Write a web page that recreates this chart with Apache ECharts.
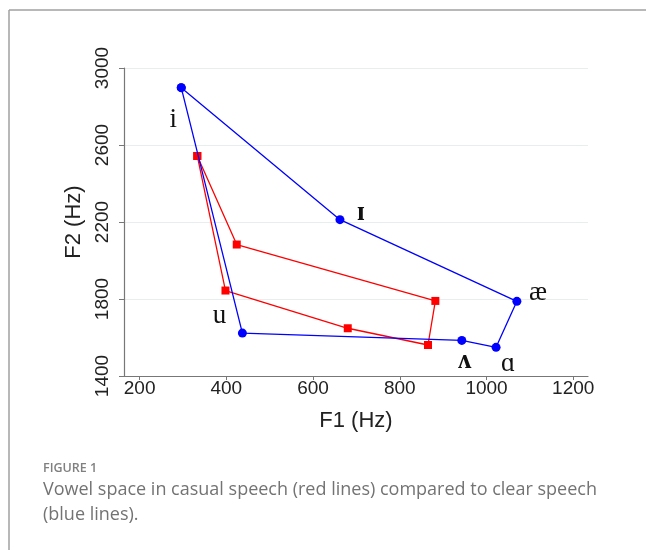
<!DOCTYPE html>
<html><head><meta charset="utf-8">
<script src="https://cdn.jsdelivr.net/npm/echarts@6/dist/echarts.min.js"></script>
<style>html,body{margin:0;padding:0;background:#fff}#c{width:646px;height:550px}</style>
</head><body><div id="c"></div>
<script>
// Clear speech (blue) vowel polygon
const vowelLabels = ["i", "ɪ", "æ", "ɑ", "ʌ", "u"];
const clearF1 = [296, 662, 1070, 1022, 943, 437];
const clearF2 = [2898, 2212, 1788, 1549, 1585, 1623];
// Casual speech (red) vowel polygon
const casualF1 = [333, 424, 882, 865, 680, 398];
const casualF2 = [2543, 2083, 1790, 1561, 1648, 1844];
// Tick labels
const xTicks = [200, 400, 600, 800, 1000, 1200];
const yTicks = [1400, 1800, 2200, 2600, 3000];

// label offsets and weights (style only)
const labelOffsets = [[-8, 32], [21, -7], [21, -8], [12, 17], [3, 21], [-23, -17]];
const labelWeights = ['normal', 'bold', 'normal', 'normal', 'bold', 'normal'];

function closed(xs, ys, withLabels) {
  const d = xs.map((x, i) => {
    const item = { value: [x, ys[i]] };
    if (withLabels) {
      item.name = vowelLabels[i];
      item.label = { show: true, position: 'inside', offset: labelOffsets[i], formatter: '{b}', fontWeight: labelWeights[i] };
    }
    return item;
  });
  d.push({ value: [xs[0], ys[0]] });
  return d;
}

const chart = echarts.init(document.getElementById('c'));
chart.setOption({
  animation: false,
  grid: { left: 124, right: 58, top: 68, bottom: 174, containLabel: false },
  xAxis: {
    type: 'value', min: 164, max: 1234,
    name: 'F1 (Hz)', nameLocation: 'middle', nameGap: 34,
    nameTextStyle: { fontFamily: 'Liberation Sans', fontSize: 22, color: '#222' },
    axisLine: { show: true, lineStyle: { color: '#777', width: 1.2 } },
    axisTick: { show: true, length: 4, customValues: xTicks, lineStyle: { color: '#777' } },
    axisLabel: { customValues: xTicks, margin: 3, fontFamily: 'Liberation Sans', fontSize: 19, color: '#222',
      formatter: v => String(v) },
    splitLine: { show: false }
  },
  yAxis: {
    type: 'value', min: 1400, max: 3000, interval: 400,
    name: 'F2 (Hz)', nameLocation: 'middle', nameGap: 36, nameRotate: 90,
    nameTextStyle: { fontFamily: 'Liberation Sans', fontSize: 22, color: '#222' },
    axisLine: { show: true, lineStyle: { color: '#777', width: 1.2 } },
    axisTick: { show: true, length: 5, lineStyle: { color: '#777' } },
    axisLabel: { rotate: 90, margin: 12, fontFamily: 'Liberation Sans', fontSize: 19, color: '#222',
      formatter: v => yTicks.includes(v) ? String(v) : '' },
    splitLine: { show: true, lineStyle: { color: '#e8eeee', width: 1.2 } }
  },
  series: [
    {
      type: 'line', data: closed(casualF1, casualF2, false),
      symbol: 'rect', symbolSize: 8,
      lineStyle: { color: '#ff0000', width: 1.3 }, itemStyle: { color: '#ff0000' },
      z: 2
    },
    {
      type: 'line', data: closed(clearF1, clearF2, true),
      symbol: 'circle', symbolSize: 9,
      lineStyle: { color: '#0000ff', width: 1.3 }, itemStyle: { color: '#0000ff' },
      label: { fontFamily: 'Liberation Serif', fontSize: 27, color: '#111' },
      z: 3
    }
  ],
  graphic: [
    { type: 'line', shape: { x1: 9, y1: 10, x2: 646, y2: 10 }, style: { stroke: '#a0a0a0', lineWidth: 1.5 } },
    { type: 'line', shape: { x1: 9, y1: 10, x2: 9, y2: 550 }, style: { stroke: '#a0a0a0', lineWidth: 1.5 } },
    { type: 'text', left: 43, top: 462, style: { text: 'FIGURE 1', fontFamily: 'Open Sans', fontSize: 12.5, fontWeight: 600, fill: '#808080' } },
    { type: 'text', left: 43, top: 481, style: { text: 'Vowel space in casual speech (red lines) compared to clear speech', fontFamily: 'Open Sans', fontSize: 18, fill: '#737373' } },
    { type: 'text', left: 43, top: 506, style: { text: '(blue lines).', fontFamily: 'Open Sans', fontSize: 18, fill: '#737373' } }
  ]
});
</script></body></html>
